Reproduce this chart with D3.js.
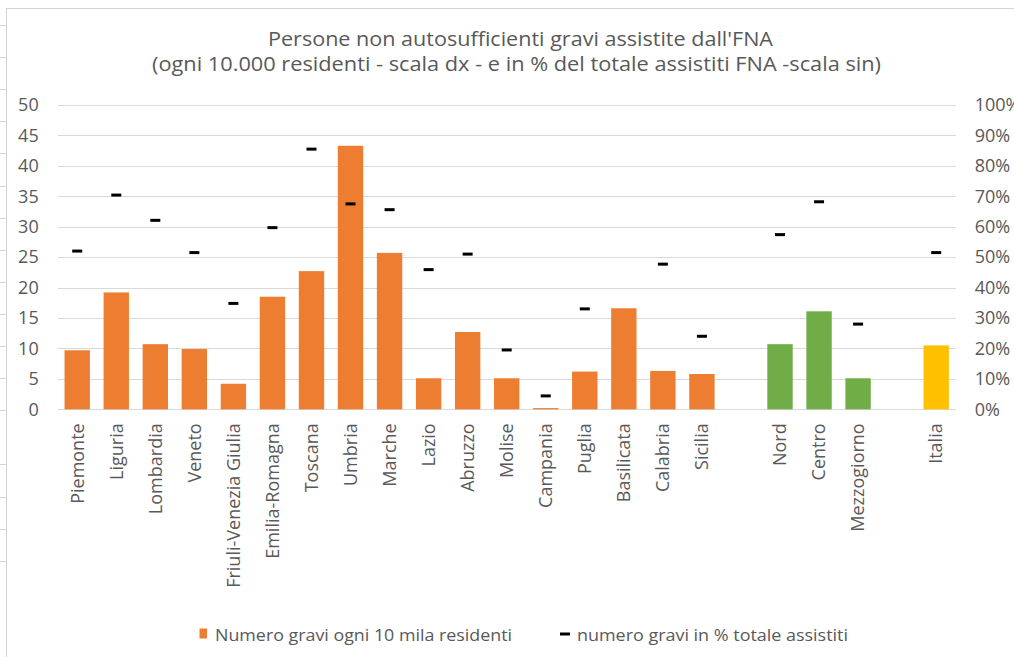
<!DOCTYPE html>
<html lang="it">
<head>
<meta charset="UTF-8">
<title>Persone non autosufficienti gravi assistite dall'FNA</title>
<script src="https://d3js.org/d3.v7.min.js"></script>
<style>
  body { margin: 0; background: #fff; }
  svg text { font-family: "Open Sans", "DejaVu Sans", sans-serif; fill: #595959; }
</style>
</head>
<body>
<div id="chart"></div>
<script>
// categories (empty strings are the gaps between groups)
const categories = ["Piemonte", "Liguria", "Lombardia", "Veneto", "Friuli-Venezia Giulia",
  "Emilia-Romagna", "Toscana", "Umbria", "Marche", "Lazio", "Abruzzo", "Molise",
  "Campania", "Puglia", "Basilicata", "Calabria", "Sicilia", "",
  "Nord", "Centro", "Mezzogiorno", "", "Italia"];
const groups = ["reg", "reg", "reg", "reg", "reg", "reg", "reg", "reg", "reg", "reg", "reg", "reg",
  "reg", "reg", "reg", "reg", "reg", "",
  "macro", "macro", "macro", "", "tot"];
// numero gravi ogni 10 mila residenti (scala sx)
const perResidents = [9.7, 19.2, 10.7, 9.9, 4.2, 18.5, 22.7, 43.3, 25.7, 5.1, 12.7, 5.1,
  0.2, 6.2, 16.6, 6.3, 5.8, null, 10.7, 16.1, 5.1, null, 10.5];
// numero gravi in % totale assistiti (scala dx)
const pctAssisted = [52.0, 70.4, 62.1, 51.5, 34.8, 59.7, 85.5, 67.5, 65.6, 45.9, 51.0, 19.5,
  4.4, 33.0, null, 47.7, 24.0, null, 57.4, 68.2, 28.0, null, 51.5];
const leftTicks = [0, 5, 10, 15, 20, 25, 30, 35, 40, 45, 50];
const rightTicks = [0, 10, 20, 30, 40, 50, 60, 70, 80, 90, 100];
const titleLines = ["Persone non autosufficienti gravi assistite dall'FNA",
  "(ogni 10.000 residenti - scala dx - e in % del totale assistiti FNA -scala sin)"];
const legendLabels = ["Numero gravi ogni 10 mila residenti", "numero gravi in % totale assistiti"];

const colors = { reg: "#ED7D31", macro: "#70AD47", tot: "#FFC000" };

const W = 1014, H = 657;
const plot = { left: 57.7, right: 955.7, top: 105, bottom: 409.3 };

const svg = d3.select("#chart").append("svg")
  .attr("width", W).attr("height", H);

// spreadsheet background bits on the left / top
const sheet = svg.append("g").attr("stroke", "#d4d4d4").attr("stroke-width", 1);
sheet.append("line").attr("x1", 6.5).attr("x2", 6.5).attr("y1", 8).attr("y2", H);
sheet.append("line").attr("x1", 6.5).attr("x2", W).attr("y1", 8.5).attr("y2", 8.5);
const rowLines = d3.range(0, 13).map(k => 25 + k * 32.1).concat([464, 497, 529, 561]);
sheet.selectAll(".row").data(rowLines).join("line")
  .attr("x1", 0).attr("x2", 6)
  .attr("y1", d => Math.round(d) + 0.5).attr("y2", d => Math.round(d) + 0.5);

const x = d3.scaleBand()
  .domain(d3.range(categories.length))
  .range([plot.left, plot.right])
  .paddingInner(0.35).paddingOuter(0.175);
const yL = d3.scaleLinear().domain([0, 50]).range([plot.bottom, plot.top]);
const yR = d3.scaleLinear().domain([0, 100]).range([plot.bottom, plot.top]);

// gridlines
svg.append("g").selectAll("line").data(leftTicks).join("line")
  .attr("x1", plot.left).attr("x2", plot.right)
  .attr("y1", d => Math.round(yL(d)) + 0.5).attr("y2", d => Math.round(yL(d)) + 0.5)
  .attr("stroke", "#d9d9d9").attr("stroke-width", 1);

// left axis labels
const leftAxis = svg.append("g")
  .attr("transform", `translate(${plot.left - 19},0)`)
  .call(d3.axisLeft(yL).tickValues(leftTicks).tickSize(0).tickPadding(0));
leftAxis.select(".domain").remove();
leftAxis.selectAll("text").attr("font-size", 18).attr("fill", "#595959");

// right axis labels
const rightAxis = svg.append("g")
  .attr("transform", `translate(${plot.right + 19},0)`)
  .call(d3.axisRight(yR).tickValues(rightTicks).tickSize(0).tickPadding(0)
    .tickFormat(d => d + "%"));
rightAxis.select(".domain").remove();
rightAxis.selectAll("text").attr("font-size", 18).attr("fill", "#595959");

// bars
svg.append("g").selectAll("rect")
  .data(perResidents.map((v, i) => ({ v, i })).filter(d => d.v != null))
  .join("rect")
  .attr("x", d => x(d.i))
  .attr("width", x.bandwidth())
  .attr("y", d => yL(d.v))
  .attr("height", d => yL(0) - yL(d.v))
  .attr("fill", d => colors[groups[d.i]]);

// dash markers
svg.append("g").selectAll("rect")
  .data(pctAssisted.map((v, i) => ({ v, i })).filter(d => d.v != null))
  .join("rect")
  .attr("x", d => x(d.i) + x.bandwidth() / 2 - 5)
  .attr("width", 10)
  .attr("y", d => yR(d.v) - 1.5)
  .attr("height", 3)
  .attr("fill", "#000");

// category labels
svg.append("g").selectAll("text")
  .data(categories.map((c, i) => ({ c, i })).filter(d => d.c !== ""))
  .join("text")
  .attr("transform", d => `translate(${x(d.i) + x.bandwidth() / 2},${plot.bottom + 14}) rotate(-90)`)
  .attr("text-anchor", "end")
  .attr("dy", "0.35em")
  .attr("font-size", 18)
  .text(d => d.c);

// title
svg.append("g").selectAll("text").data(titleLines).join("text")
  .attr("x", (d, i) => i === 0 ? 268 : 152)
  .attr("y", (d, i) => 46 + i * 24.5)
  .attr("font-size", 20)
  .attr("textLength", (d, i) => i === 0 ? 505 : 729)
  .attr("lengthAdjust", "spacingAndGlyphs")
  .text(d => d);

// legend
const legend = svg.append("g");
legend.append("rect").attr("x", 199.5).attr("y", 628.5).attr("width", 7.5).attr("height", 10)
  .attr("fill", colors.reg);
legend.append("text").attr("x", 215).attr("y", 640.5).attr("font-size", 16)
  .attr("textLength", 297).attr("lengthAdjust", "spacingAndGlyphs")
  .text(legendLabels[0]);
legend.append("rect").attr("x", 560).attr("y", 632.5).attr("width", 10).attr("height", 3)
  .attr("fill", "#000");
legend.append("text").attr("x", 577).attr("y", 640.5).attr("font-size", 16)
  .attr("textLength", 271).attr("lengthAdjust", "spacingAndGlyphs")
  .text(legendLabels[1]);
</script>
</body>
</html>
